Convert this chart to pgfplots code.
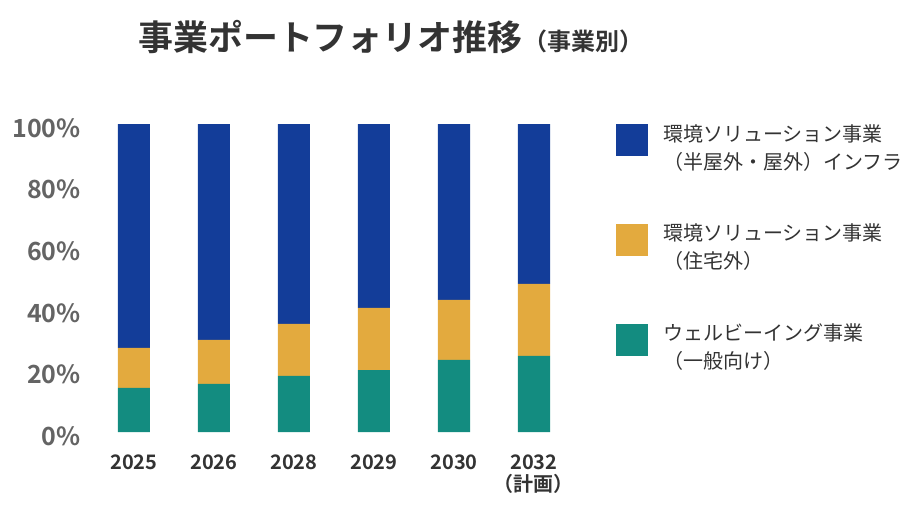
\documentclass[border=0pt]{standalone}
\usepackage{fontspec}
\setmainfont{Noto Sans CJK JP}[BoldFont={Noto Sans CJK JP Bold}]
\usepackage{pgfplots}
\pgfplotsset{compat=1.18}
\definecolor{cblue}{RGB}{19,61,153}
\definecolor{corange}{RGB}{227,170,62}
\definecolor{cteal}{RGB}{19,140,128}
\definecolor{ygray}{RGB}{100,100,100}
\definecolor{dtext}{RGB}{51,51,51}
\begin{document}
\begin{tikzpicture}
\path[use as bounding box] (-70.5pt,-60pt) rectangle (619.5pt,324pt);
\begin{axis}[
  at={(0,0)}, anchor=south west,
  scale only axis, width=360pt, height=231pt,
  xmin=-0.5, xmax=5.5, ymin=0, ymax=100,
  ybar stacked, bar width=24pt,
  axis line style={draw=none}, tick style={draw=none},
  xtick={0,1,2,3,4,5},
  xticklabels={2025,2026,2028,2029,2030,{2032\\（計画）}},
  ytick={0,20,40,60,80,100},
  yticklabels={0\%,20\%,40\%,60\%,80\%,100\%},
  /pgf/number format/assume math mode=true,
  yticklabel style={font=\fontsize{18.75}{20}\selectfont\bfseries, text=ygray, inner sep=0pt, xshift=-9.75pt, yshift=-3pt},
  xticklabel style={font=\fontsize{15}{16.5}\selectfont\bfseries, text=dtext, inner sep=0pt, yshift=-17pt, align=center, anchor=north},
  reverse legend,
  legend cell align=left,
  legend style={draw=none, fill=none, inner sep=0pt, anchor=north west, at={(1.0875,1)},
    font=\fontsize{15}{21}\selectfont, text=dtext,
    nodes={align=left, inner sep=0pt, text=dtext},
    row sep=39.5pt, column sep=11.25pt},
  legend image code/.code={\fill[#1] (0pt,-6.3pt) rectangle (24pt,17.7pt);},
]
\addplot[fill=cteal, draw=none] coordinates {(0,14.3) (1,15.6) (2,18.2) (3,20.1) (4,23.4) (5,24.7)};
\addplot[fill=corange, draw=none] coordinates {(0,13.0) (1,14.3) (2,16.9) (3,20.2) (4,19.5) (5,23.4)};
\addplot[fill=cblue, draw=none] coordinates {(0,72.7) (1,70.1) (2,64.9) (3,59.7) (4,57.1) (5,51.9)};
\legend{{ウェルビーイング事業\\（一般向け）},{環境ソリューション事業\\（住宅外）},{環境ソリューション事業\\（半屋外・屋外）インフラ}}
\end{axis}
\node[anchor=base west, text=dtext, inner sep=0pt] at (33pt,55.5pt+231pt)
  {\fontsize{26.2}{28}\selectfont\bfseries 事業ポートフォリオ推移\hspace{1pt}\fontsize{18}{20}\selectfont（事業別）};
\end{tikzpicture}
\end{document}
